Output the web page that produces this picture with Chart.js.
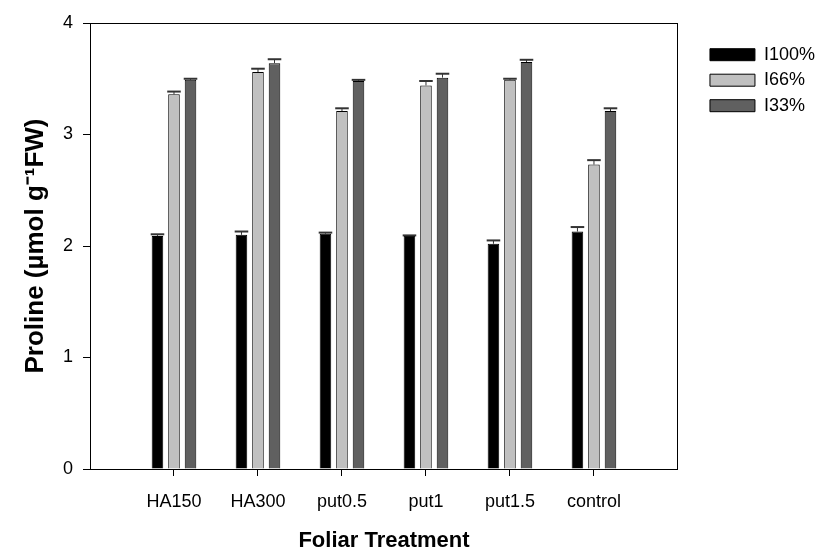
<!DOCTYPE html>
<html><head><meta charset="utf-8">
<script src="https://cdn.jsdelivr.net/npm/chart.js@4/dist/chart.umd.min.js"></script>
<style>html,body{margin:0;padding:0;background:#fff}#wrap{width:825px;height:554px}</style>
</head><body><div id="wrap"><canvas id="c" width="825" height="554"></canvas></div>
<script>
const categories = ['HA150', 'HA300', 'put0.5', 'put1', 'put1.5', 'control'];
const seriesNames = ['I100%', 'I66%', 'I33%'];
const i100 = [2.09, 2.10, 2.11, 2.09, 2.02, 2.13];
const i66 = [3.36, 3.56, 3.21, 3.44, 3.49, 2.73];
const i33 = [3.49, 3.64, 3.48, 3.51, 3.65, 3.21];
const i100Err = [0.015, 0.03, 0.01, 0.005, 0.03, 0.04];
const i66Err = [0.025, 0.03, 0.025, 0.04, 0.01, 0.04];
const i33Err = [0.01, 0.035, 0.01, 0.035, 0.02, 0.025];
const yTicks = [0, 1, 2, 3, 4];

const FONT = "'Liberation Sans', Arial, sans-serif";
const pad = arr => [null, ...arr, null];
const labels = ['', ...categories, ''];

const errorBars = {
  id: 'errorBars',
  afterDatasetsDraw(chart) {
    const ctx = chart.ctx, y = chart.scales.y;
    chart.data.datasets.forEach((ds, di) => {
      const meta = chart.getDatasetMeta(di);
      meta.data.forEach((bar, i) => {
        const v = ds.data[i], e = ds.errors[i];
        if (v == null || e == null) return;
        const yTop = y.getPixelForValue(v + e);
        const yBar = y.getPixelForValue(v);
        const half = bar.width / 2 + 1;
        ctx.save();
        ctx.strokeStyle = '#333';
        ctx.lineWidth = 1;
        ctx.beginPath(); ctx.moveTo(bar.x, yBar); ctx.lineTo(bar.x, yTop); ctx.stroke();
        ctx.lineWidth = 2;
        ctx.beginPath(); ctx.moveTo(bar.x - half, yTop); ctx.lineTo(bar.x + half, yTop); ctx.stroke();
        ctx.restore();
      });
    });
  }
};

const mk = (name, data, errs, color) => ({
  label: name, data: pad(data), errors: pad(errs),
  backgroundColor: color, borderColor: '#000', borderWidth: 1,
  categoryPercentage: 0.59, barPercentage: 0.7
});

new Chart(document.getElementById('c'), {
  type: 'bar',
  data: {
    labels: labels,
    datasets: [
      mk(seriesNames[0], i100, i100Err, '#000000'),
      mk(seriesNames[1], i66, i66Err, '#c0c0c0'),
      mk(seriesNames[2], i33, i33Err, '#606060')
    ]
  },
  plugins: [errorBars],
  options: {
    responsive: false,
    devicePixelRatio: 1,
    animation: false,
    layout: { padding: { top: 23, right: 0, bottom: 0, left: 0 } },
    plugins: {
      tooltip: { enabled: false },
      legend: {
        position: 'right', align: 'start',
        title: { display: true, text: '', font: { size: 1 }, padding: { top: 14, bottom: 0 } },
        labels: { boxWidth: 45, boxHeight: 12, padding: 7.5, color: '#000', font: { family: FONT, size: 18 } }
      }
    },
    scales: {
      x: {
        type: 'category', offset: false,
        grid: { offset: false, drawOnChartArea: false, drawTicks: true, tickLength: 7,
          tickColor: c => (c.index === 0 || c.index === labels.length - 1) ? 'rgba(0,0,0,0)' : '#000' },
        border: { display: true, color: '#000', width: 1 },
        ticks: { color: '#000', font: { family: FONT, size: 18 }, padding: 15, maxRotation: 0, autoSkip: false },
        title: { display: true, text: 'Foliar Treatment', color: '#000', font: { family: FONT, size: 22, weight: 'bold' }, padding: { top: 0, bottom: 0 } },
        afterFit: s => { s.height = 85; }
      },
      xT: {
        type: 'category', position: 'top', labels: labels, offset: false,
        grid: { display: false }, ticks: { display: false },
        border: { display: true, color: '#000', width: 1 },
        afterFit: s => { s.height = 0; }
      },
      y: {
        min: 0, max: 4,
        afterBuildTicks: s => { s.ticks = yTicks.map(v => ({ value: v })); },
        grid: { drawOnChartArea: false, drawTicks: true, tickLength: 7, tickColor: '#000' },
        border: { display: true, color: '#000', width: 1 },
        ticks: { color: '#000', font: { family: FONT, size: 18 }, padding: 10 },
        title: { display: true, text: 'Proline (µmol g⁻¹FW)', color: '#000', font: { family: FONT, size: 26, weight: 'bold' }, padding: { top: 20, bottom: 0 } },
        afterFit: s => { s.width = 90; }
      },
      yR: {
        position: 'right', min: 0, max: 4,
        grid: { display: false }, ticks: { display: false },
        border: { display: true, color: '#000', width: 1 },
        afterFit: s => { s.width = 24.5; }
      }
    }
  }
});
</script>
</body></html>
